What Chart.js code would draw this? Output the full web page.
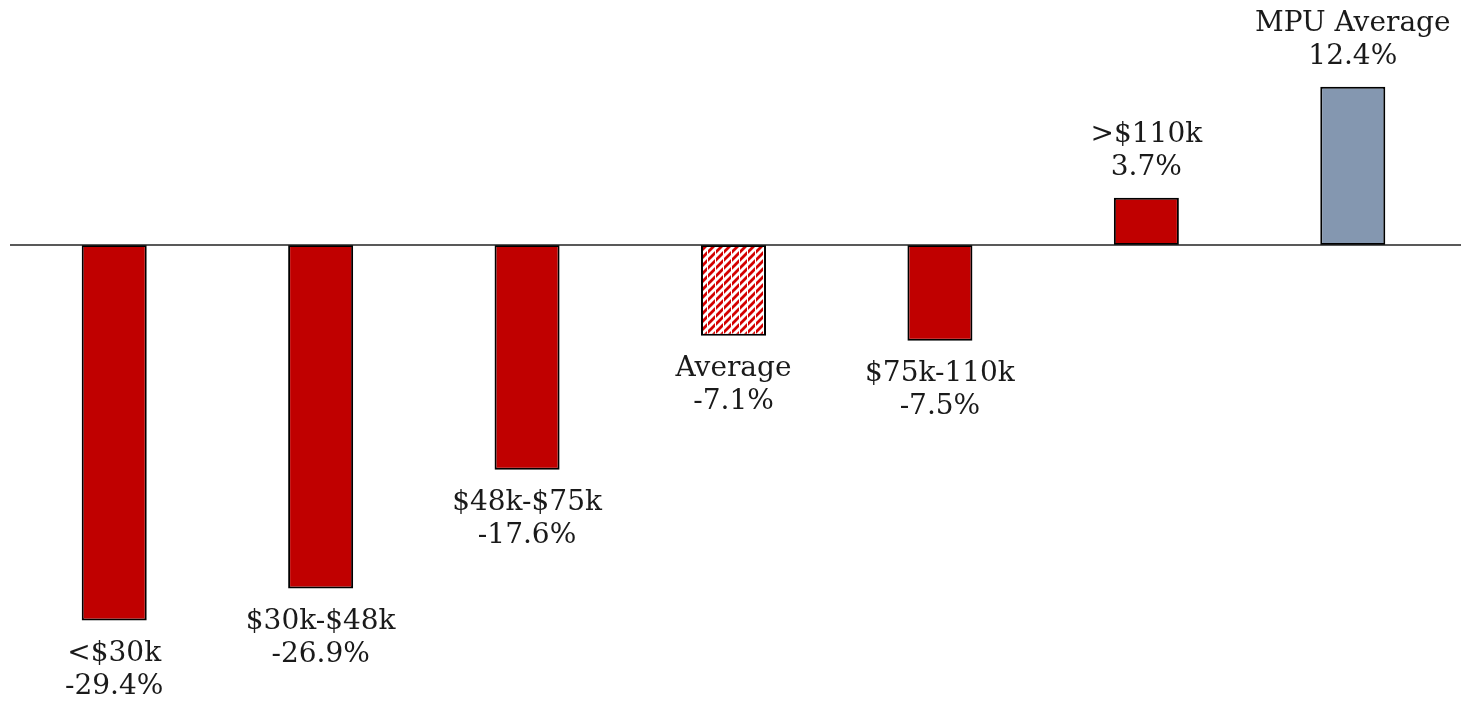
<!DOCTYPE html>
<html>
<head>
<meta charset="utf-8">
<script src="https://cdn.jsdelivr.net/npm/chart.js@4.4.1/dist/chart.umd.min.js"></script>
<style>
  body { margin: 0; background: #fff; }
  #wrap { width: 1461px; height: 708px; position: relative; }
</style>
</head>
<body>
<div id="wrap"><canvas id="incomeChart"></canvas></div>
<script>
const categories = ["<$30k", "$30k-$48k", "$48k-$75k", "Average", "$75k-110k", ">$110k", "MPU Average"];
const values = [-29.4, -26.9, -17.6, -7.1, -7.5, 3.7, 12.4];
const barKinds = ["red", "red", "red", "hatch", "red", "red", "blue"];

const FONT = "28px 'DejaVu Serif', Georgia, serif";

// diagonal red stripes for the "Average" bar
function makeHatch() {
  const c = document.createElement("canvas");
  c.width = 8;
  c.height = 8;
  const g = c.getContext("2d");
  g.fillStyle = "#ffffff";
  g.fillRect(0, 0, 8, 8);
  g.strokeStyle = "#d40000";
  g.lineWidth = 2.8;
  g.beginPath();
  g.moveTo(-2, 10); g.lineTo(10, -2);
  g.moveTo(-6, 6); g.lineTo(6, -6);
  g.moveTo(2, 14); g.lineTo(14, 2);
  g.stroke();
  // small white breaks like the original texture
  g.fillStyle = "#ffffff";
  g.fillRect(3, 0, 1, 8);
  return g.createPattern(c, "repeat");
}

const hatch = makeHatch();
const colors = barKinds.map(function (k) {
  if (k === "hatch") return hatch;
  if (k === "blue") return "#8497B0";
  return "#C00000";
});

// zero line across the whole width
const zeroLine = {
  id: "zeroLine",
  afterDatasetsDraw(chart) {
    const ctx = chart.ctx;
    const y = chart.scales.y.getPixelForValue(0);
    ctx.save();
    ctx.strokeStyle = "#222";
    ctx.lineWidth = 1.5;
    ctx.beginPath();
    ctx.moveTo(10, y);
    ctx.lineTo(chart.width, y);
    ctx.stroke();
    ctx.restore();
  },
};

// two-line labels: category name + value
const barLabels = {
  id: "barLabels",
  afterDatasetsDraw(chart) {
    const ctx = chart.ctx;
    const meta = chart.getDatasetMeta(0);
    ctx.save();
    ctx.font = FONT;
    ctx.fillStyle = "#1a1a1a";
    ctx.textAlign = "center";
    ctx.textBaseline = "middle";
    meta.data.forEach(function (bar, i) {
      const v = values[i];
      const txt = v.toFixed(1) + "%";
      if (v < 0) {
        ctx.fillText(categories[i], bar.x, bar.y + 33);
        ctx.fillText(txt, bar.x, bar.y + 66);
      } else {
        ctx.fillText(categories[i], bar.x, bar.y - 63);
        ctx.fillText(txt, bar.x, bar.y - 30);
      }
    });
    ctx.restore();
  },
};

new Chart(document.getElementById("incomeChart").getContext("2d"), {
  type: "bar",
  data: {
    labels: categories,
    datasets: [
      {
        data: values,
        backgroundColor: colors,
        borderColor: "#000",
        borderWidth: 2,
        borderSkipped: false,
        barPercentage: 0.315,
        categoryPercentage: 1,
      },
    ],
  },
  options: {
    responsive: true,
    maintainAspectRatio: false,
    animation: false,
    layout: { padding: { left: 11, right: 5, top: 0, bottom: 0 } },
    scales: {
      x: { display: false },
      y: { display: false, min: -36.26, max: 19.19 },
    },
    plugins: {
      legend: { display: false },
      tooltip: { enabled: false },
    },
  },
  plugins: [zeroLine, barLabels],
});
</script>
</body>
</html>
